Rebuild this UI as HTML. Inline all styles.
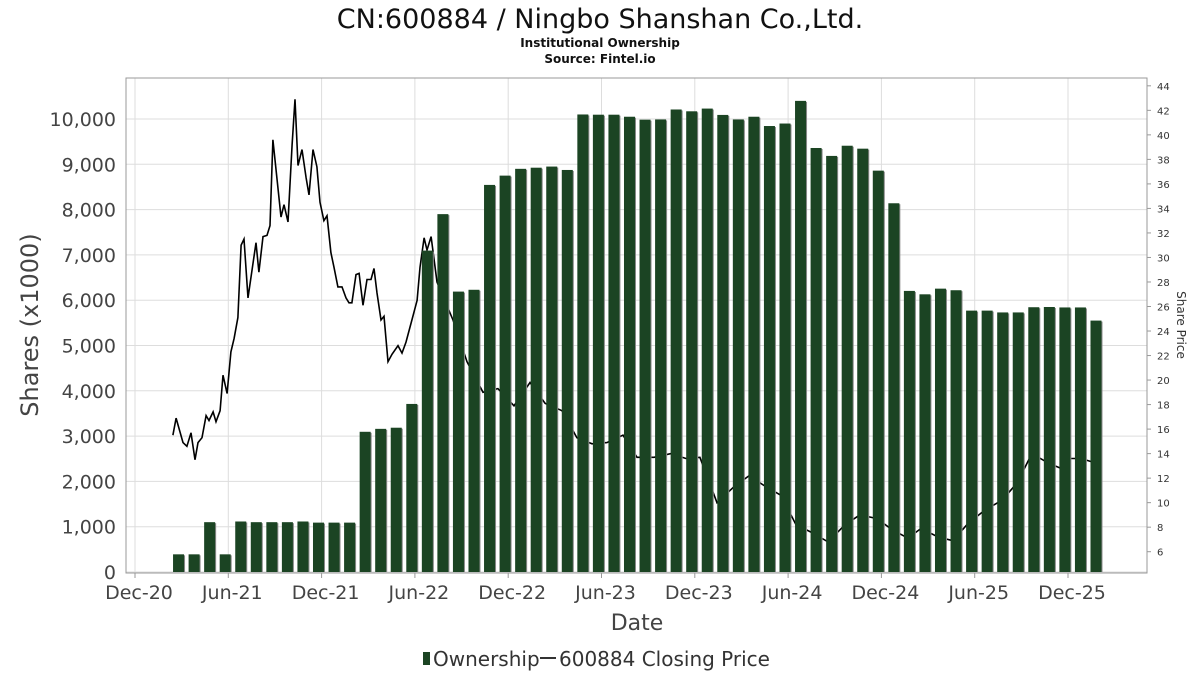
<!DOCTYPE html>
<html><head><meta charset="utf-8">
<style>
html,body{margin:0;padding:0;background:#fff;}
body{width:1200px;height:675px;overflow:hidden;font-family:"DejaVu Sans","Liberation Sans",sans-serif;}
svg text{font-family:"DejaVu Sans","Liberation Sans",sans-serif;}
</style></head>
<body>
<svg id="chart" width="1200" height="675" xmlns="http://www.w3.org/2000/svg">
<text x="600" y="28" text-anchor="middle" font-size="27" fill="#111">CN:600884 / Ningbo Shanshan Co.,Ltd.</text>
<text x="600" y="47" text-anchor="middle" font-size="12" font-weight="bold" fill="#111">Institutional Ownership</text>
<text x="600" y="63" text-anchor="middle" font-size="12" font-weight="bold" fill="#111">Source: Fintel.io</text>
<g id="grid"></g>
<g id="price"></g>
<g id="bars"></g>
<rect x="126" y="78" width="1021" height="495" fill="none" stroke="#999" stroke-width="1"/>
<g id="axes"></g>
<text transform="translate(38,325) rotate(-90)" text-anchor="middle" font-size="24" fill="#444">Shares (x1000)</text>
<text transform="translate(1177,325) rotate(90)" text-anchor="middle" font-size="12" fill="#333">Share Price</text>
<text x="637" y="630" text-anchor="middle" font-size="22" fill="#444">Date</text>
<g>
<rect x="423" y="652" width="7" height="13" fill="#1b4423"/>
<text x="433" y="666" font-size="20" fill="#333">Ownership</text>
<line x1="540" y1="658" x2="556" y2="658" stroke="#333" stroke-width="2"/>
<text x="559" y="666" font-size="20" fill="#333">600884 Closing Price</text>
</g>
</svg>
<script>
const ownership=[390,390,1100,390,1115,1100,1100,1100,1115,1090,1090,1090,3095,3160,3185,3710,7095,7900,6190,6230,8545,8750,8900,8925,8950,8875,10100,10095,10095,10050,9985,9990,10210,10170,10230,10090,9990,10050,9845,9900,10400,9360,9185,9410,9345,8860,8140,6205,6130,6255,6220,5770,5770,5730,5730,5845,5850,5840,5840,5550];
const firstBarMonth=2.8;
const priceMonths=[2.44,2.64,3.09,3.34,3.6,3.86,4.05,4.31,4.57,4.76,5.02,5.21,5.47,5.66,5.92,6.17,6.37,6.62,6.82,7.01,7.27,7.78,7.97,8.23,8.49,8.68,8.87,9.39,9.58,9.84,10.1,10.29,10.48,10.74,11.0,11.19,11.45,11.7,11.9,12.15,12.35,12.6,12.8,13.05,13.31,13.57,13.76,13.95,14.21,14.41,14.66,14.92,15.18,15.37,15.56,15.82,16.01,16.27,16.53,16.91,17.17,17.43,17.81,18.14,18.33,18.59,18.78,19.04,19.42,20.45,21.35,22.38,23.34,24.37,25.4,26.37,27.46,28.42,29.39,30.35,31.38,32.28,33.38,34.47,35.43,36.33,37.43,38.52,39.49,40.45,41.54,42.51,43.47,44.57,45.66,46.62,47.72,48.68,49.71,50.55,51.64,52.6,53.57,54.66,55.76,56.72,57.68,58.78,59.74,60.06,60.84,61.86];
const prices=[15.5,16.9,14.9,14.6,15.7,13.5,14.9,15.3,17.1,16.7,17.4,16.6,17.5,20.4,18.9,22.3,23.4,25.1,31.0,31.5,26.7,31.2,28.8,31.7,31.8,32.6,39.6,33.3,34.3,32.9,39.2,42.9,37.5,38.8,36.5,35.1,38.8,37.4,34.5,33.0,33.4,30.4,29.2,27.6,27.6,26.7,26.3,26.3,28.6,28.7,26.1,28.2,28.2,29.1,27.1,24.9,25.2,21.5,22.1,22.8,22.2,23.1,24.9,26.5,29.2,31.6,30.6,31.7,28.0,24.9,21.5,19.0,19.3,17.9,19.8,18.1,17.5,15.3,14.8,14.9,15.5,13.7,13.7,14.0,13.6,13.7,10.0,11.3,12.2,11.4,10.6,8.2,7.6,6.8,8.2,9.0,8.7,7.8,7.1,7.9,7.2,6.9,8.3,9.4,10.2,11.6,14.0,13.2,12.7,13.6,13.6,13.2];
const leftTicks=[0,1000,2000,3000,4000,5000,6000,7000,8000,9000,10000];
const rightTicks=[6,8,10,12,14,16,18,20,22,24,26,28,30,32,34,36,38,40,42,44];
const xTickLabels=["Dec-20","Jun-21","Dec-21","Jun-22","Dec-22","Jun-23","Dec-23","Jun-24","Dec-24","Jun-25","Dec-25"];
const xTickMonths=[0,6,12,18,24,30,36,42,48,54,60];

const NS="http://www.w3.org/2000/svg";
const xS=m=>135+m*15.55;
const yL=v=>572-v*0.0453;
const yR=p=>551.7-(p-6)*12.26;
function mk(tag,attrs,parent){const e=document.createElementNS(NS,tag);for(const k in attrs)e.setAttribute(k,attrs[k]);parent.appendChild(e);return e;}
const grid=document.getElementById('grid'),axes=document.getElementById('axes');
leftTicks.forEach(v=>{
  const l=mk('line',{x1:126,x2:1147,y1:yL(v),y2:yL(v),stroke:'#ddd','stroke-width':1},grid);
  
  
  const t=mk('text',{x:116,y:yL(v)+7,'text-anchor':'end','font-size':19,fill:'#444'},axes);
  t.textContent=v.toLocaleString('en-US');
  
  
});
xTickMonths.forEach((m,i)=>{
  const x=xS(m);
  const l=mk('line',{x1:x,x2:x,y1:78,y2:573,stroke:'#ddd','stroke-width':1},grid);
  
  
  const tk=mk('line',{x1:x,x2:x,y1:573,y2:578,stroke:'#999'},axes);
  
  
  const t=mk('text',{x:x+4,y:599,'text-anchor':'middle','font-size':19,fill:'#444'},axes);
  t.textContent=xTickLabels[i];
  
  
});
rightTicks.forEach(p=>{
  const tk=mk('line',{x1:1147,x2:1151,y1:yR(p),y2:yR(p),stroke:'#999'},axes);
  
  
  const t=mk('text',{x:1157,y:yR(p)+4,'font-size':10,fill:'#333'},axes);
  t.textContent=p;
  
  
});
const priceG=document.getElementById('price');
const pts=priceMonths.map((m,i)=>xS(m).toFixed(1)+','+yR(prices[i]).toFixed(1)).join(' ');
const pl=mk('polyline',{points:pts,fill:'none',stroke:'#000','stroke-width':1.6},priceG);


const barsG=document.getElementById('bars');
ownership.forEach((v,i)=>{
  const cx=xS(firstBarMonth+i);
  const s=mk('rect',{x:cx-4.5,y:yL(v)+1,width:11,height:572-yL(v)-1,fill:'#8a8a8a'},barsG);
  
  
  const b=mk('rect',{x:cx-5.5,y:yL(v),width:11,height:572-yL(v),fill:'#1b4423'},barsG);
  
  
});
</script>
</body></html>
